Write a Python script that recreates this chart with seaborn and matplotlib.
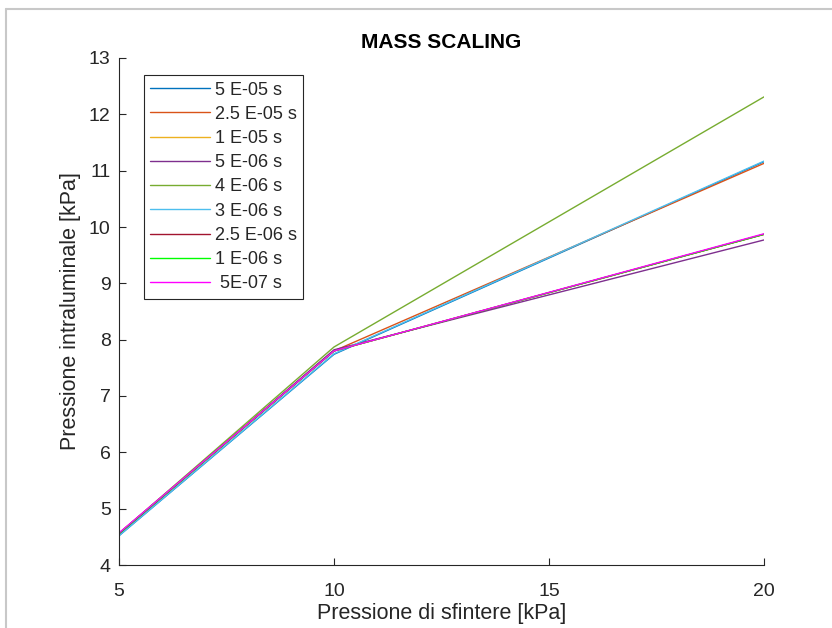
import numpy as np
import pandas as pd
import matplotlib
matplotlib.use("Agg")
import matplotlib.pyplot as plt
from matplotlib.lines import Line2D
import seaborn as sns

sns.set_style("ticks")
plt.rcParams["font.family"] = ["Liberation Sans", "DejaVu Sans"]

# data
x_vals = [5, 10, 20]
labels = ["5 E-05 s", "2.5 E-05 s", "1 E-05 s", "5 E-06 s", "4 E-06 s",
          "3 E-06 s", "2.5 E-06 s", "1 E-06 s", " 5E-07 s"]
y_5e05 = [4.52, 7.74, 11.16]
y_25e05 = [4.55, 7.80, 11.13]
y_1e05 = [4.56, 7.80, 9.87]
y_5e06 = [4.55, 7.82, 9.77]
y_4e06 = [4.56, 7.87, 12.31]
y_3e06 = [4.52, 7.75, 11.17]
y_25e06 = [4.56, 7.80, 9.87]
y_1e06 = [4.56, 7.80, 9.87]
y_5e07 = [4.57, 7.80, 9.88]
series = [y_5e05, y_25e05, y_1e05, y_5e06, y_4e06, y_3e06, y_25e06, y_1e06, y_5e07]

colors = ["#0072BD", "#D95319", "#EDB120", "#7E2F8E", "#77AC30",
          "#4DBEEE", "#A2142F", "#00FF00", "#FF00FF"]

rows = []
for lab, ys in zip(labels, series):
    for xv, yv in zip(x_vals, ys):
        rows.append({"x": xv, "y": yv, "serie": lab})
df = pd.DataFrame(rows)

fig = plt.figure(figsize=(8.32, 6.28), dpi=100)
ax = fig.add_axes([119 / 832, 63 / 628, 645 / 832, 507 / 628])

sns.lineplot(data=df, x="x", y="y", hue="serie", hue_order=labels,
             palette=colors, linewidth=1.0, ax=ax, legend=False, sort=False)

ax.set_xlim(5, 20)
ax.set_ylim(4, 13)
ax.set_xticks([5, 10, 15, 20])
ax.set_yticks(range(4, 14))
ax.tick_params(direction="in", length=5, width=0.8, colors="#262626",
               labelsize=14, labelcolor="#262626")
ax.tick_params(axis="x", pad=13)
ax.tick_params(axis="y", pad=6)
for s in ["top", "right"]:
    ax.spines[s].set_visible(False)
for s in ["left", "bottom"]:
    ax.spines[s].set_color("#262626")
    ax.spines[s].set_linewidth(0.8)

ax.set_xlabel("Pressione di sfintere [kPa]", fontsize=15.5, color="#262626", labelpad=2)
ax.set_ylabel("Pressione intraluminale [kPa]", fontsize=15.5, color="#262626", labelpad=6)
ax.set_title("MASS SCALING", fontsize=15, fontweight="bold", color="#000000", pad=7)

handles = [Line2D([0], [0], color=c, lw=1.0) for c in colors]
leg = ax.legend(handles, labels, loc="upper left", bbox_to_anchor=(0.039, 0.966),
                borderaxespad=0, fontsize=13, frameon=True, fancybox=False,
                framealpha=1, edgecolor="#262626", handlelength=3.3,
                handletextpad=0.28, labelspacing=0.4, borderpad=0.35)
leg.get_frame().set_linewidth(0.8)
for t in leg.get_texts():
    t.set_color("#262626")

# screenshot frame
fig.add_artist(Line2D([6 / 832, 1], [1 - 9 / 628, 1 - 9 / 628], color="#c8c8c8", lw=1.5))
fig.add_artist(Line2D([6 / 832, 6 / 832], [0, 1 - 9 / 628], color="#c8c8c8", lw=1.5))

fig.savefig("out.png", dpi=100, facecolor="white")
